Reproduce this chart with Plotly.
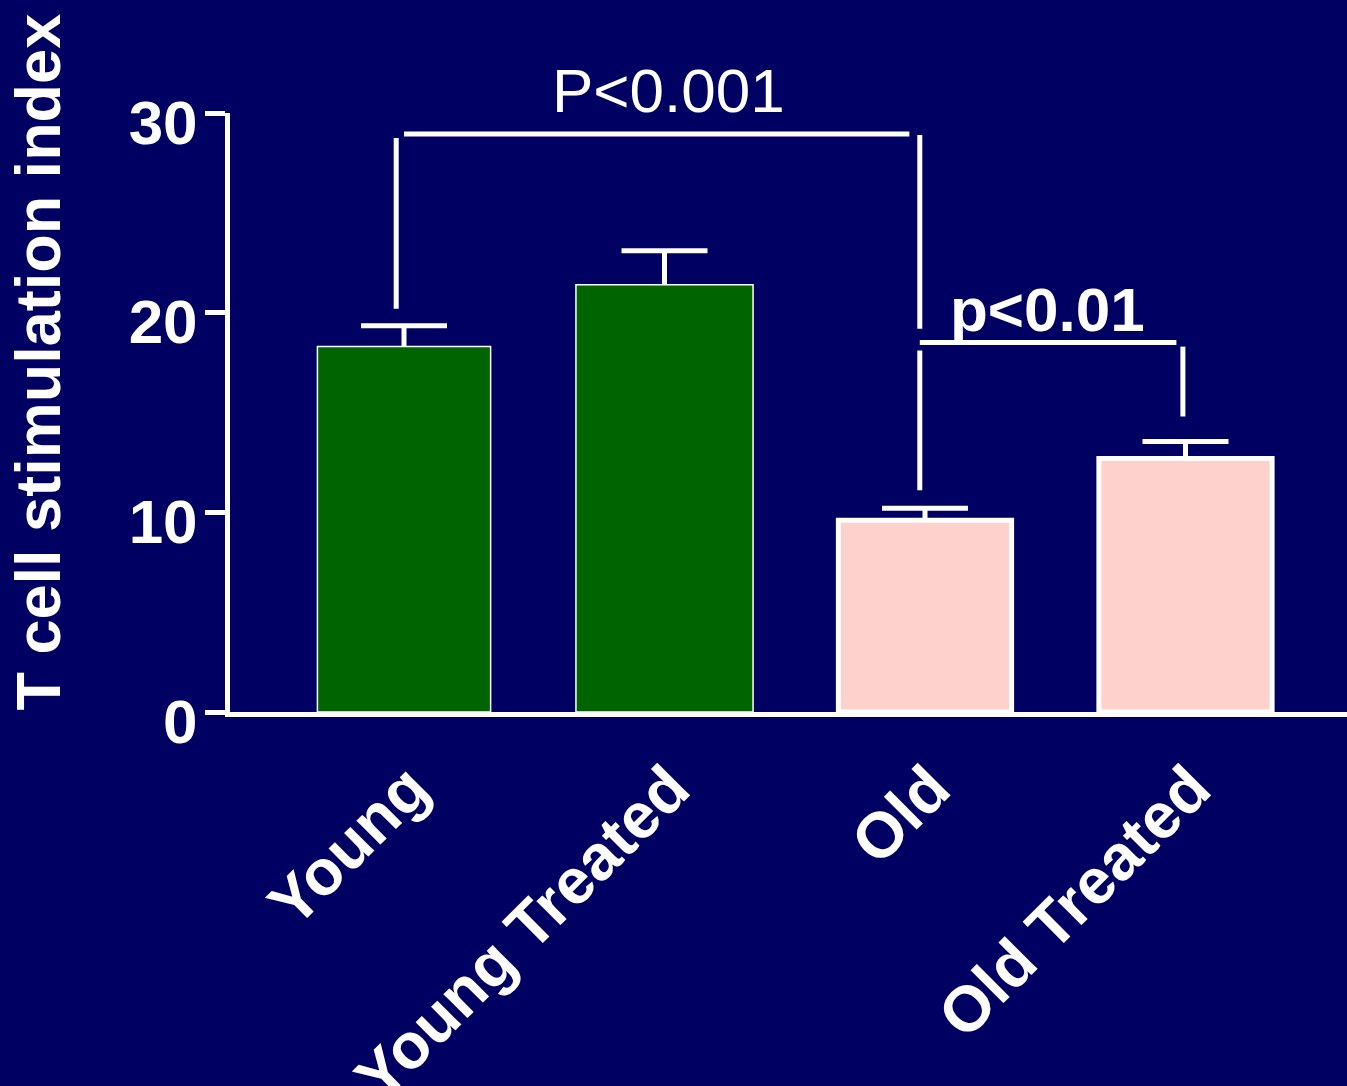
import plotly.graph_objects as go

categories = ["Young", "Young Treated", "Old", "Old Treated"]
values = [18.3, 21.4, 9.6, 12.7]
errors = [1.05, 1.7, 0.6, 0.85]
bar_colors = ["#006400", "#006400", "#FFD1CC", "#FFD1CC"]
outline_widths = [1.5, 1.5, 5, 5]
y_ticks = [0, 10, 20, 30]

BG = "#000062"
FONT = "Liberation Sans, Arial, sans-serif"
CAP_HALF = 0.165  # half cap width in category units

x_idx = list(range(len(categories)))

fig = go.Figure()
fig.add_trace(go.Bar(
    x=x_idx,
    y=values,
    width=[0.665, 0.68, 0.665, 0.665],
    marker=dict(color=bar_colors, line=dict(color="white", width=outline_widths)),
    showlegend=False,
))

# upper error bars (stem + cap) built from values/errors
ex, ey = [], []
for i, (v, e) in enumerate(zip(values, errors)):
    ex += [i, i, None, i - CAP_HALF, i + CAP_HALF, None]
    ey += [v, v + e, None, v + e, v + e, None]
fig.add_trace(go.Scatter(x=ex, y=ey, mode="lines", line=dict(color="white", width=5),
                         showlegend=False, hoverinfo="skip"))

# significance brackets (category index, value units)
brackets = [
    [(0.0, 28.95, 1.94, 28.95), (-0.03, 28.75, -0.03, 20.2), (1.98, 28.9, 1.98, 19.2)],
    [(1.98, 18.5, 2.965, 18.5), (1.98, 18.1, 1.98, 11.1), (2.99, 18.3, 2.99, 14.8)],
]
for br in brackets:
    for (x0, y0, x1, y1) in br:
        fig.add_shape(type="line", xref="x", yref="y", x0=x0, y0=y0, x1=x1, y1=y1,
                      line=dict(color="white", width=5))

fig.add_annotation(x=1.017, y=1.037, xref="x", yref="paper", text="P<0.001", showarrow=False,
                   font=dict(family=FONT, size=62, color="white"), xanchor="center", yanchor="middle")
fig.add_annotation(x=2.47, y=20.15, xref="x", yref="y", text="p<0.01", showarrow=False,
                   font=dict(family=FONT, size=62, color="white", weight="bold"),
                   xanchor="center", yanchor="middle")

# y-axis title
fig.add_annotation(x=-0.172, y=0.585, xref="paper", yref="paper", text="T cell stimulation index",
                   textangle=-90, showarrow=False, xanchor="center", yanchor="middle",
                   font=dict(family=FONT, size=63, color="white", weight="bold"))

fig.update_layout(
    width=1347, height=1086,
    paper_bgcolor=BG, plot_bgcolor=BG,
    margin=dict(l=230, r=0, t=113, b=374, autoexpand=False),
    xaxis=dict(
        range=[-0.668, 3.62], automargin=False,
        tickmode="array", tickvals=x_idx, ticktext=categories,
        tickangle=-45, showgrid=False, zeroline=False,
        showline=True, linecolor="white", linewidth=5, ticks="",
        ticklabelshift=6, ticklabelstandoff=8,
        tickfont=dict(family=FONT, size=64, color="white", weight="bold"),
    ),
    yaxis=dict(
        range=[0, 30], tickvals=y_ticks, showgrid=False, zeroline=False, automargin=False,
        showline=True, linecolor="white", linewidth=5,
        ticks="outside", ticklen=20, tickwidth=5, tickcolor="white",
        ticklabelshift=9, ticklabelstandoff=-5,
        tickfont=dict(family=FONT, size=62, color="white", weight="bold"),
    ),
)

fig.write_html("out.html", config={"displayModeBar": False})

with open("out.html", "r", encoding="utf-8") as f:
    html = f.read()
html = html.replace("<head>", "<head><style>html,body{margin:0;padding:0;background:%s;overflow:hidden;}</style>" % BG, 1)
with open("out.html", "w", encoding="utf-8") as f:
    f.write(html)
